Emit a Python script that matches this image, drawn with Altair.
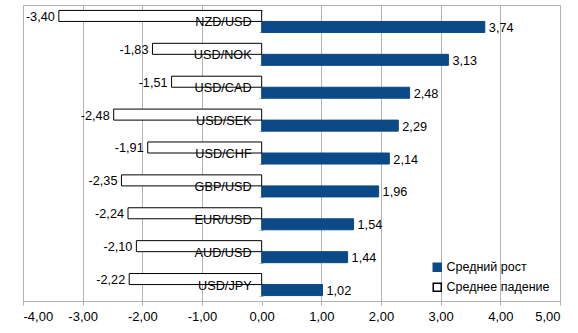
import altair as alt
import pandas as pd

pairs = ["NZD/USD", "USD/NOK", "USD/CAD", "USD/SEK", "USD/CHF",
         "GBP/USD", "EUR/USD", "AUD/USD", "USD/JPY"]
growth = [3.74, 3.13, 2.48, 2.29, 2.14, 1.96, 1.54, 1.44, 1.02]
decline = [-3.40, -1.83, -1.51, -2.48, -1.91, -2.35, -2.24, -2.10, -2.22]
series_names = ["Средний рост", "Среднее падение"]
x_ticks = [-4, -3, -2, -1, 0, 1, 2, 3, 4, 5]

BLUE = "#0b4a87"
GRID = "#b3b3b3"
FONT = "Liberation Sans"

rows = []
for p, g, d in zip(pairs, growth, decline):
    rows.append({"pair": p, "series": series_names[0], "value": g})
    rows.append({"pair": p, "series": series_names[1], "value": d})
df = pd.DataFrame(rows)
df["label"] = df["value"].map(lambda v: f"{v:.2f}".replace(".", ","))
df_pairs = pd.DataFrame({"pair": pairs, "zero": [0] * len(pairs)})

y_scale = alt.Scale(domain=pairs, paddingInner=0.33, paddingOuter=0.165)
yoff_sort = [series_names[1], series_names[0]]

x_enc = alt.X(
    "value:Q",
    scale=alt.Scale(domain=[-4, 5], nice=False),
    axis=alt.Axis(
        values=x_ticks, title=None,
        labelExpr="replace(replace(format(datum.value, '.2f'), '.', ','), '\u2212', '-')",
        labelFont=FONT, labelFontSize=13, labelColor="#000000", labelPadding=5,
        domainColor=GRID, tickColor=GRID, tickSize=4,
        gridColor={"condition": {"test": "datum.value === 0", "value": "transparent"}, "value": GRID},
    ),
)
y_enc = alt.Y(
    "pair:N", scale=y_scale, sort=pairs, title=None,
    axis=alt.Axis(labels=False, domain=False, ticks=True, tickBand="extent",
                  tickColor=GRID, tickSize=4, offset=-240, grid=False),
)
yoff = alt.YOffset("series:N", sort=yoff_sort, scale=alt.Scale(paddingInner=0, paddingOuter=0))

legend_kw = dict(title=None, orient="none", legendX=408, legendY=256,
                 symbolType="square", symbolSize=64,
                 labelFont=FONT, labelFontSize=12.5, labelColor="#000000",
                 labelOffset=3, rowPadding=5, padding=0)

bars = alt.Chart(df).mark_bar(strokeWidth=1).encode(
    x=x_enc,
    y=y_enc,
    yOffset=yoff,
    fill=alt.Fill("series:N",
                  scale=alt.Scale(domain=series_names, range=[BLUE, "#ffffff"]),
                  legend=alt.Legend(**legend_kw)),
    stroke=alt.Stroke("series:N",
                      scale=alt.Scale(domain=series_names, range=[BLUE, "#000000"]),
                      legend=alt.Legend(**legend_kw)),
)

pos_labels = alt.Chart(df).transform_filter("datum.value > 0").mark_text(
    align="left", baseline="middle", dx=4, dy=1, font=FONT, fontSize=12.7, color="#000000"
).encode(x="value:Q", y=alt.Y("pair:N", sort=pairs), yOffset=alt.YOffset("series:N", sort=yoff_sort), text="label:N")

neg_labels = alt.Chart(df).transform_filter("datum.value < 0").mark_text(
    align="right", baseline="middle", dx=-4, dy=1, font=FONT, fontSize=12.7, color="#000000"
).encode(x="value:Q", y=alt.Y("pair:N", sort=pairs), yOffset=alt.YOffset("series:N", sort=yoff_sort), text="label:N")

cat_labels = alt.Chart(df_pairs).mark_text(
    align="right", baseline="middle", dx=-10, dy=1, font=FONT, fontSize=12.7, color="#000000"
).encode(x=alt.X("zero:Q"), y=alt.Y("pair:N", sort=pairs), text="pair:N")

chart = alt.layer(bars, neg_labels, pos_labels, cat_labels).properties(
    width=537, height=296,
    autosize=alt.AutoSizeParams(type="none"),
    padding={"left": 23, "top": 5, "right": 18, "bottom": 32},
    background="#ffffff",
).configure_view(stroke=GRID, strokeWidth=1)

chart.save("out.html", embed_options={"renderer": "svg", "actions": False})
